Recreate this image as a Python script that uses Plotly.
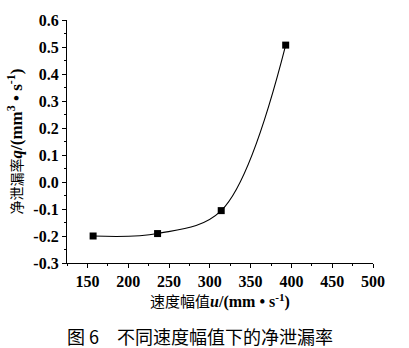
import plotly.graph_objects as go

# Velocity amplitude (mm/s) and net leakage rate (mm^3/s)
speed = [157, 236, 314, 393]
net_leak = [-0.200, -0.191, -0.106, 0.507]

x_ticks = [150, 200, 250, 300, 350, 400, 450, 500]
y_ticks = [-0.3, -0.2, -0.1, 0.0, 0.1, 0.2, 0.3, 0.4, 0.5, 0.6]
y_tick_text = ["-0.3", "-0.2", "-0.1", "0.0", "0.1", "0.2", "0.3", "0.4", "0.5", "0.6"]

SERIF = "Liberation Serif"
CJK = "Noto Sans CJK SC"

fig = go.Figure()
fig.add_trace(go.Scatter(
    x=speed, y=net_leak,
    mode="lines+markers",
    line=dict(color="black", width=1.1, shape="spline", smoothing=1.0),
    marker=dict(symbol="square", size=7, color="black"),
    showlegend=False,
))

axis_common = dict(
    showline=True, linecolor="black", linewidth=1.2,
    ticks="outside", ticklen=4, tickwidth=1, tickcolor="black",
    showgrid=False, zeroline=False, mirror=False,
    tickfont=dict(family=SERIF, size=16, color="black", weight=700),
)

fig.update_xaxes(
    range=[125, 500], tickvals=x_ticks,
    minor=dict(ticks="outside", ticklen=2, dtick=25, tick0=125, tickcolor="black"),
    title=dict(
        text="<span style='font-family:Noto Sans CJK SC;font-size:15px'>速度幅值</span><b><i>u</i>/(mm • s<sup>-1</sup>)</b>",
        font=dict(family=SERIF, size=16, color="black"),
        standoff=4,
    ),
    **axis_common,
)
fig.update_yaxes(
    range=[-0.3, 0.6], tickvals=y_ticks, ticktext=y_tick_text,
    minor=dict(ticks="outside", ticklen=2, dtick=0.05, tick0=-0.3, tickcolor="black"),
    title=dict(
        text="<span style='font-family:Noto Sans CJK SC;font-size:14px'>净泄漏率</span><b><i>q</i>/(mm<sup>3</sup> • s<sup>-1</sup>)</b>",
        font=dict(family=SERIF, size=17, color="black"),
        standoff=6,
    ),
    **axis_common,
)

fig.add_annotation(
    text="图 6　不同速度幅值下的净泄漏率",
    xref="paper", yref="paper", x=-0.008, y=-0.3,
    xanchor="left", yanchor="middle", showarrow=False,
    font=dict(family=CJK, size=18, color="black"),
)

fig.update_layout(
    width=409, height=348,
    margin=dict(l=67, r=36, t=15, b=85),
    paper_bgcolor="white", plot_bgcolor="white",
)

fig.write_html("out.html")
